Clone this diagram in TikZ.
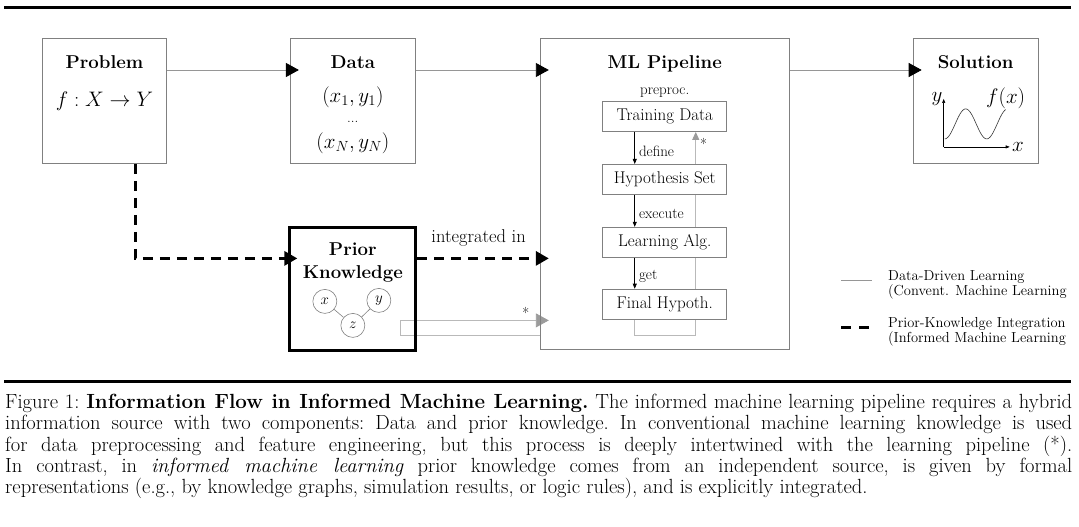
\RequirePackage{fix-cm}
\documentclass[tikz,border=0pt]{standalone}
\usepackage{amsmath}
\usepackage{amssymb}
\usepackage{tikz}
\usetikzlibrary{positioning,arrows.meta,backgrounds}
\usepackage{xcolor}

\definecolor{boxgray}{RGB}{128,128,128}
\definecolor{flowgray}{RGB}{150,150,150}
\definecolor{convgray}{RGB}{185,185,185}
\definecolor{tipgray}{RGB}{155,155,155}

\begin{document}
\begin{tikzpicture}[
    x = 1pt, y = -1pt,
    box/.style={draw=boxgray, line width=0.9pt, minimum width=124pt, minimum height=125pt, inner sep=0pt},
    stage/.style={draw=boxgray, line width=0.9pt, fill=white, minimum width=124pt, minimum height=30pt, inner sep=0pt, font=\fontsize{17}{20}\selectfont},
    title/.style={font=\fontsize{18.6}{23}\selectfont\bfseries, inner sep=0pt},
    formula/.style={font=\fontsize{21}{25}\selectfont, inner sep=0pt},
    remark/.style={font=\fontsize{15}{18}\selectfont, inner sep=1pt},
    flow/.style={draw=flowgray, line width=0.9pt, -{Triangle[length=13pt, width=14pt, color=black]}, shorten >=-9pt},
    prior/.style={draw=black, line width=3pt, dash pattern=on 10pt off 7pt, -{Triangle[length=13pt, width=14pt]}, shorten >=-9pt},
    conv/.style={draw=convgray, line width=0.9pt},
    stepflow/.style={draw=black, line width=0.6pt, -{Triangle[length=5pt, width=4pt]}},
    var/.style={circle, draw=boxgray, line width=0.6pt, fill=white, minimum size=24pt, inner sep=0pt, font=\fontsize{15}{18}\selectfont},
    legend/.style={align=left, inner sep=0pt, font=\fontsize{14.5}{12}\selectfont},
    rule/.style={line width=3pt}
]
\useasboundingbox (0,0) rectangle (1079,527);

% Rules
\draw[rule] (4,7.5) -- (1071,7.5);
\draw[rule] (4,381.5) -- (1071,381.5);

% Boxes
\node[box, anchor=north west] (problem) at (42,38) {};
\node[box, right=123pt of problem.north east, anchor=north west, minimum width=125pt] (data) {};
\node[box, right=124pt of data.north east, anchor=north west, minimum width=249pt, minimum height=311pt] (pipeline) {};
\node[box, right=123pt of pipeline.north east, anchor=north west, minimum width=125pt] (solution) {};
\node[box, below=62pt of data, draw=black, line width=3pt, minimum width=126pt, minimum height=123pt] (knowledge) {};

% Box contents
\node[title, anchor=base] (problemlbl) at ([yshift=-31pt]problem.north) {Problem};
\node[formula] (problemfx) at ([yshift=-63pt]problem.north) {$f: X \rightarrow Y$};
\node[title, anchor=base] (datalbl) at ([yshift=-31pt]data.north) {Data};
\node[formula] (firstpair) at ([yshift=-59pt]data.north) {$(x_1, y_1)$};
\node[remark, anchor=base] (pairdots) at ([yshift=-84pt]data.north) {...};
\node[formula] (lastpair) at ([yshift=-105pt]data.north) {$(x_N, y_N)$};
\node[title, anchor=base] (pipelinelbl) at ([yshift=-31pt]pipeline.north) {ML Pipeline};
\node[remark, anchor=base] (preproc) at ([yshift=-57pt]pipeline.north) {preproc.};
\node[title, anchor=base] (solutionlbl) at ([yshift=-31pt]solution.north) {Solution};
\node[title, align=center] (knowledgelbl) at ([yshift=-37pt]knowledge.north) {Prior\\Knowledge};

% Pipeline stages
\node[stage, below=63pt of pipeline.north] (train) {Training Data};
\node[stage, below=32pt of train] (hyp) {Hypothesis Set};
\node[stage, below=32pt of hyp] (learn) {Learning Alg.};
\node[stage, below=31pt of learn] (final) {Final Hypoth.};

\draw[stepflow] ([xshift=-30pt]train.south) -- node[remark, pos=0.6, right=3pt] (definelbl) {define} ([xshift=-30pt]hyp.north);
\draw[stepflow] ([xshift=-30pt]hyp.south) -- node[remark, pos=0.6, right=3pt] (executelbl) {execute} ([xshift=-30pt]learn.north);
\draw[stepflow] ([xshift=-30pt]learn.south) -- node[remark, pos=0.6, right=3pt] (getlbl) {get} ([xshift=-30pt]final.north);

% Small graph in prior knowledge
\node[var] (vz) at ([yshift=-36.5pt]knowledge.center) {$z$};
\node[var] (vx) at ([xshift=-28pt, yshift=24pt]vz) {$x$};
\node[var] (vy) at ([xshift=26pt, yshift=25pt]vz) {$y$};
\draw[draw=boxgray, line width=0.6pt] (vx) -- (vz);
\draw[draw=boxgray, line width=0.6pt] (vy) -- (vz);

% Solution plot
\coordinate (origin) at ([xshift=31pt, yshift=17pt]solution.south west);
\draw[line width=0.6pt, -{Triangle[length=4pt, width=3pt]}] (origin) -- ++(0,-48) node[formula, left=1pt] (ylbl) {$y$};
\draw[line width=0.6pt, -{Triangle[length=4pt, width=3pt]}] (origin) -- ++(66,0) node[formula, right=2pt] (xlbl) {$x$};
\begin{scope}[shift={(origin)}]
  \draw[line width=0.6pt, draw=black!80] plot[domain=1:62, samples=80, smooth] (\x, {-23+15*cos(8.5714*(\x-1))}) node[formula, above=1pt] (fxlbl) {$f(x)$};
\end{scope}

% Data-driven flow
\draw[flow] ([yshift=-32pt]problem.north east) -- ([yshift=-32pt]data.north west);
\draw[flow] ([yshift=-32pt]data.north east) -- ([yshift=-32pt]pipeline.north west);
\draw[flow] ([yshift=-32pt]pipeline.north east) -- ([yshift=-32pt]solution.north west);

% Prior knowledge integration
\coordinate (kout) at ([yshift=30.5pt]knowledge.east);
\draw[prior] ([xshift=31pt]problem.south) |- ([yshift=30.5pt]knowledge.west);
\draw[prior] (kout) -- node[above=10pt, inner sep=1pt, font=\fontsize{18.5}{21}\selectfont] (integrlbl) {integrated in} (kout -| pipeline.west);

% Knowledge inside conventional learning (*)
\coordinate (kbot) at ([xshift=-17pt, yshift=-46.5pt]knowledge.east);
\coordinate (ktop) at ([xshift=-17pt, yshift=-31.5pt]knowledge.east);
\begin{scope}[on background layer]
  \draw[conv, -{Triangle[length=13pt, width=14pt, color=tipgray]}, shorten >=-9pt] (kbot -| pipeline.west) -- (kbot) -- (ktop) -- node[remark, pos=0.9, above] (convstar) {*} (ktop -| pipeline.west);
  \draw[conv, -{Triangle[length=8pt, width=7pt, color=tipgray]}] ([xshift=-30pt]final.south) -- ++(0,16) -| node[remark, pos=0.97, right=3pt] (loopstar) {*} ([xshift=31pt]train.south);
\end{scope}

% Legend
\coordinate (ddA) at (841,280);
\coordinate (ddB) at (872,280);
\draw[draw=flowgray, line width=0.9pt] (ddA) -- (ddB);
\node[legend, anchor=west] (ddtext) at ([xshift=16pt, yshift=-5pt]ddB) {Data-Driven Learning\\(Convent. Machine Learning};
\coordinate (ikA) at (841,327);
\coordinate (ikB) at (869,327);
\draw[line width=3pt, dash pattern=on 10pt off 8pt] (ikA) -- (ikB);
\node[legend, anchor=west] (iktext) at ([xshift=19pt, yshift=-5pt]ikB) {Prior-Knowledge Integration\\(Informed Machine Learning};

% Caption
\node[anchor=north west, inner sep=0pt, text width=1067pt, align=justify, font=\fontsize{20.5}{21.3}\selectfont] (figcaption) at (5,394) {\noindent\frenchspacing Figure 1: \textbf{Information Flow in Informed Machine Learning.} The informed machine learning pipeline requires a hybrid\linebreak information source with two components: Data and prior knowledge. In conventional machine learning knowledge is used\linebreak for data preprocessing and feature engineering, but this process is deeply intertwined with the learning pipeline (*).\linebreak In contrast, in \textit{informed machine learning} prior knowledge comes from an independent source, is given by formal\linebreak representations (e.g., by knowledge graphs, simulation results, or logic rules), and is explicitly integrated.};

\end{tikzpicture}
\end{document}
